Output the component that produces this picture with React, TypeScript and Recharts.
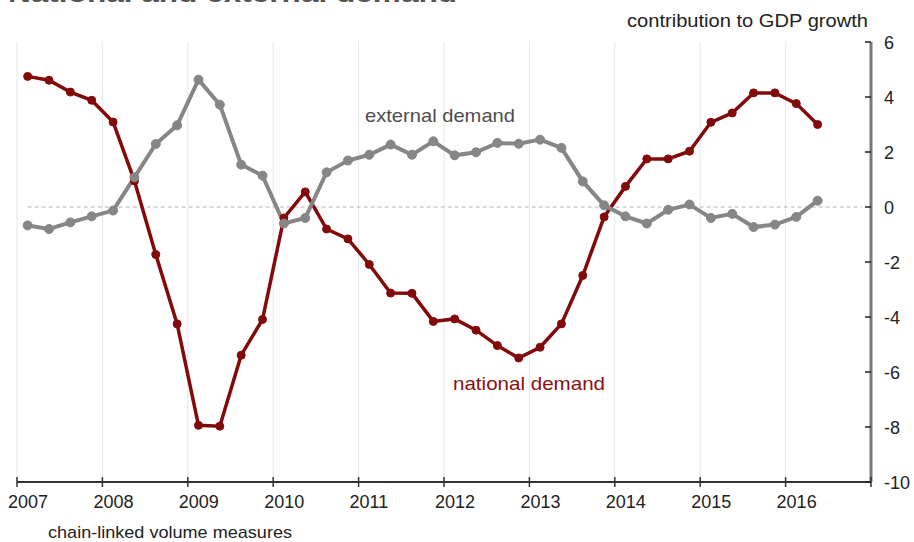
import React from "react";
import {
  LineChart,
  Line,
  XAxis,
  YAxis,
  CartesianGrid,
  ReferenceLine,
} from "recharts";

const quarters = [
  "2007Q1", "2007Q2", "2007Q3", "2007Q4",
  "2008Q1", "2008Q2", "2008Q3", "2008Q4",
  "2009Q1", "2009Q2", "2009Q3", "2009Q4",
  "2010Q1", "2010Q2", "2010Q3", "2010Q4",
  "2011Q1", "2011Q2", "2011Q3", "2011Q4",
  "2012Q1", "2012Q2", "2012Q3", "2012Q4",
  "2013Q1", "2013Q2", "2013Q3", "2013Q4",
  "2014Q1", "2014Q2", "2014Q3", "2014Q4",
  "2015Q1", "2015Q2", "2015Q3", "2015Q4",
  "2016Q1", "2016Q2",
];

const nationalDemand = [
  4.75, 4.61, 4.18, 3.88,
  3.09, 0.95, -1.73, -4.25,
  -7.94, -7.97, -5.39, -4.09,
  -0.4, 0.55, -0.8, -1.16,
  -2.09, -3.13, -3.14, -4.16,
  -4.07, -4.48, -5.04, -5.49,
  -5.1, -4.25, -2.49, -0.36,
  0.75, 1.75, 1.75, 2.03,
  3.08, 3.42, 4.15, 4.15,
  3.76, 3.0,
];

const externalDemand = [
  -0.67, -0.8, -0.56, -0.34,
  -0.13, 1.08, 2.29, 2.97,
  4.63, 3.72, 1.54, 1.14,
  -0.6, -0.4, 1.26, 1.69,
  1.9, 2.27, 1.9, 2.39,
  1.88, 1.99, 2.33, 2.3,
  2.45, 2.15, 0.93, 0.06,
  -0.34, -0.6, -0.1, 0.09,
  -0.4, -0.25, -0.73, -0.64,
  -0.36, 0.23,
];

const yearTicks = [2007, 2008, 2009, 2010, 2011, 2012, 2013, 2014, 2015, 2016, 2017];
const valueTicks = [6, 4, 2, 0, -2, -4, -6, -8, -10];

const FONT = "'Liberation Sans', Arial, sans-serif";
const RED = "#820a0a";
const GREY = "#868686";

// quarter label -> fractional year at the middle of the quarter
const toYear = (q: string) => Number(q.slice(0, 4)) + (Number(q.slice(5)) - 0.5) / 4;

const data = quarters.map((q, i) => ({
  t: toYear(q),
  national: nationalDemand[i],
  external: externalDemand[i],
}));

const XTick = ({ x, y, payload }: any) => (
  <g>
    <line x1={x} x2={x} y1={y - 5} y2={y + 5} stroke="#333" strokeWidth={1.5} />
    {payload.value < 2017 && (
      <text x={x - 9} y={y + 26} fontSize={18} fill="#222" fontFamily={FONT}>
        {payload.value}
      </text>
    )}
  </g>
);

const YTick = ({ x, y, payload }: any) => (
  <g>
    <line x1={x - 6} x2={x} y1={y} y2={y} stroke="#222" strokeWidth={1.5} />
    <text x={x + 13} y={y + 6.5} fontSize={18} fill="#222" fontFamily={FONT}>
      {payload.value}
    </text>
  </g>
);

export default function App() {
  return (
    <div
      style={{
        position: "absolute",
        left: 0,
        top: 0,
        width: 914,
        height: 542,
        background: "#fff",
        overflow: "hidden",
      }}
    >
      <LineChart
        width={914}
        height={542}
        data={data}
        margin={{ top: 42, right: 0, bottom: 0, left: 17 }}
      >
        <CartesianGrid horizontal={false} stroke="#e1e6f2" />
        <XAxis
          dataKey="t"
          type="number"
          domain={[2007, 2017]}
          ticks={yearTicks}
          height={60}
          tickSize={0}
          tickMargin={0}
          tickLine={false}
          axisLine={{ stroke: "#333", strokeWidth: 2 }}
          tick={<XTick />}
          allowDataOverflow
        />
        <YAxis
          orientation="right"
          type="number"
          domain={[-10, 6]}
          ticks={valueTicks}
          width={43}
          tickSize={0}
          tickMargin={0}
          tickLine={false}
          axisLine={{ stroke: "#7a7a7a", strokeWidth: 3 }}
          tick={<YTick />}
          allowDataOverflow
        />
        <ReferenceLine
          segment={[
            { x: 2007.125, y: 0 },
            { x: 2016.9, y: 0 },
          ]}
          stroke="#b4b4b4"
          strokeDasharray="4 3"
        />
        <Line
          dataKey="national"
          type="linear"
          stroke={RED}
          strokeWidth={3.5}
          dot={{ r: 4, fill: RED, stroke: RED, strokeWidth: 1 }}
          isAnimationActive={false}
        />
        <Line
          dataKey="external"
          type="linear"
          stroke={GREY}
          strokeWidth={4}
          dot={{ r: 4.5, fill: GREY, stroke: GREY, strokeWidth: 1 }}
          isAnimationActive={false}
        />
      </LineChart>
      <svg
        width={914}
        height={542}
        style={{ position: "absolute", left: 0, top: 0, pointerEvents: "none" }}
      >
        {/* title sits mostly above the frame, as in the source picture */}
        <text
          x={8}
          y={2}
          fontSize={24}
          fontWeight="bold"
          fill="#555"
          fontFamily={FONT}
          textLength={449}
          lengthAdjust="spacingAndGlyphs"
        >
          National and external demand
        </text>
        <text
          x={627}
          y={27}
          fontSize={19}
          fill="#222"
          fontFamily={FONT}
          textLength={241}
          lengthAdjust="spacingAndGlyphs"
        >
          contribution to GDP growth
        </text>
        <text
          x={365}
          y={122}
          fontSize={19}
          fill="#4d4d4d"
          fontFamily={FONT}
          textLength={150}
          lengthAdjust="spacingAndGlyphs"
        >
          external demand
        </text>
        <text
          x={453}
          y={390}
          fontSize={19}
          fill="#8b1010"
          fontFamily={FONT}
          textLength={152}
          lengthAdjust="spacingAndGlyphs"
        >
          national demand
        </text>
        <text
          x={48}
          y={538}
          fontSize={17}
          fill="#222"
          fontFamily={FONT}
          textLength={244}
          lengthAdjust="spacingAndGlyphs"
        >
          chain-linked volume measures
        </text>
      </svg>
    </div>
  );
}
